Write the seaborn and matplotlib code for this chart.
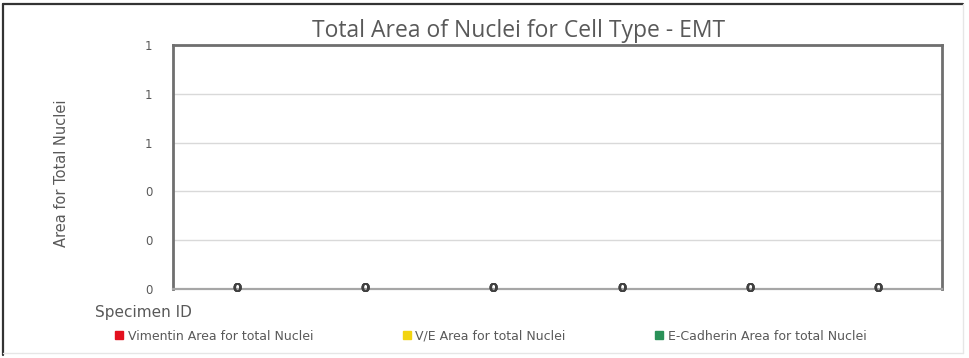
import matplotlib
matplotlib.use("Agg")
import matplotlib.pyplot as plt
from matplotlib.lines import Line2D
from matplotlib.ticker import FixedLocator, StrMethodFormatter
import pandas as pd
import seaborn as sns

# Specimens (category labels are left blank on the axis)
specimens = ["S1", "S2", "S3", "S4", "S5", "S6"]
series_names = [
    "Vimentin Area for total Nuclei",
    "V/E Area for total Nuclei",
    "E-Cadherin Area for total Nuclei",
]
vimentin_area = [0, 0, 0, 0, 0, 0]
ve_area = [0, 0, 0, 0, 0, 0]
ecadherin_area = [0, 0, 0, 0, 0, 0]
y_ticks = [0, 0.2, 0.4, 0.6, 0.8, 1.0]
series_colors = ["#E3101E", "#F2D410", "#2A9158"]

df = pd.DataFrame({
    "Specimen": specimens * 3,
    "Series": [series_names[0]] * 6 + [series_names[1]] * 6 + [series_names[2]] * 6,
    "Area": vimentin_area + ve_area + ecadherin_area,
})

sns.set_theme(style="white")
plt.rcParams["font.family"] = ["DejaVu Sans"]

W, H = 969, 358
fig = plt.figure(figsize=(W / 100, H / 100), dpi=100)
ax = fig.add_axes([173 / W, 1 - 289 / H, (942 - 173) / W, (289 - 45) / H])

sns.barplot(data=df, x="Specimen", y="Area", hue="Series",
            palette=series_colors, dodge=False, errorbar=None,
            width=0.6, ax=ax, legend=False)

ax.set_ylim(0, 1)
ax.yaxis.set_major_locator(FixedLocator(y_ticks))
ax.yaxis.set_major_formatter(StrMethodFormatter("{x:.0f}"))
ax.grid(axis="y", color="#d9d9d9", linewidth=1)
ax.set_axisbelow(True)
ax.tick_params(axis="y", length=0, pad=15, labelsize=8.5, labelcolor="#595959")
ax.tick_params(axis="x", length=0, labelbottom=False)
ax.set_xlabel("")
ax.set_ylabel("")

for side in ["top", "right", "left"]:
    ax.spines[side].set_color("#6f6f6f")
    ax.spines[side].set_linewidth(2)
ax.spines["bottom"].set_color("#a6a6a6")
ax.spines["bottom"].set_linewidth(1.6)

for container in ax.containers:
    ax.bar_label(container, fmt="%.0f", label_type="center",
                 fontsize=9.5, fontweight="bold", color="#404040")

fig.text(519 / W, 1 - 31 / H, "Total Area of Nuclei for Cell Type - EMT",
         ha="center", va="center", fontsize=16.5, color="#595959",
         family=["Open Sans", "DejaVu Sans"])
fig.text(62 / W, 1 - 173 / H, "Area for Total Nuclei", rotation=90,
         ha="center", va="center", fontsize=10.5, color="#595959")
fig.text(95 / W, 1 - 312 / H, "Specimen ID", ha="left", va="center",
         fontsize=11, color="#595959")

handles = [Line2D([], [], linestyle="none", marker="s", markersize=6,
                  markerfacecolor=c, markeredgecolor=c) for c in series_colors]
fig.legend(handles, series_names, ncol=3, loc="center left",
           bbox_to_anchor=(116 / W, 1 - 336 / H), frameon=False,
           fontsize=9, labelcolor="#595959", handlelength=0.5,
           handletextpad=0.45, columnspacing=7.2, borderpad=0,
           borderaxespad=0)

# Chart frame
fig.add_artist(Line2D([3 / W, 3 / W], [1 - 4 / H, 1 - 355 / H], color="#333333", lw=1.6))
fig.add_artist(Line2D([3 / W, 963 / W], [1 - 4 / H, 1 - 4 / H], color="#333333", lw=1.6))
fig.add_artist(Line2D([963 / W, 963 / W], [1 - 4 / H, 1 - 353 / H], color="#e6e6e6", lw=1))
fig.add_artist(Line2D([3 / W, 963 / W], [1 - 353 / H, 1 - 353 / H], color="#e6e6e6", lw=1))

fig.savefig("out.png", dpi=100)
